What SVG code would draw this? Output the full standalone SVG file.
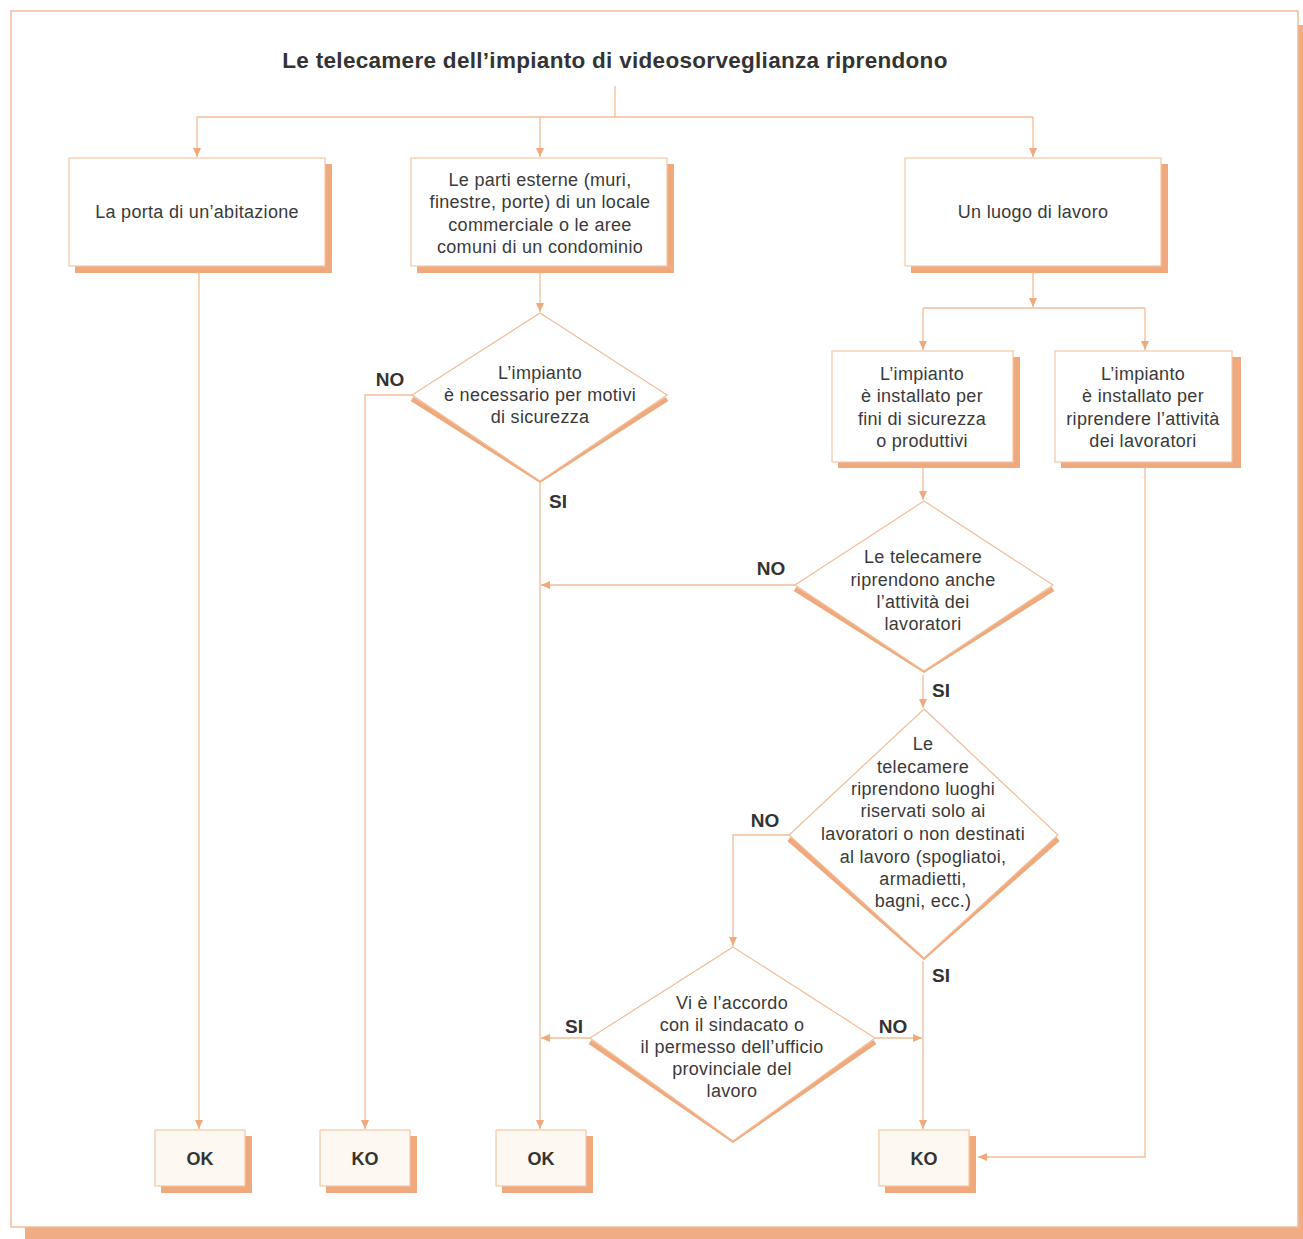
<svg xmlns="http://www.w3.org/2000/svg" width="1303" height="1239" viewBox="0 0 1303 1239">
<style>
.t{font-family:"Liberation Sans",Arial,sans-serif;font-size:18px;letter-spacing:0.3px;fill:#3a3a3a;text-anchor:middle}
.b{font-family:"Liberation Sans",Arial,sans-serif;font-weight:bold;font-size:18px;fill:#333;text-anchor:middle}
.l{font-size:19px}
.box{fill:#fff;stroke:#f3c7a6;stroke-width:1.2}
.end{fill:#fdf8f1;stroke:#f3c7a6;stroke-width:1.2}
.sh{fill:#f0a97c}
.dia{fill:#fff;stroke:#f2bc96;stroke-width:1.2}
.dsh{fill:none;stroke:#f0a97c;stroke-width:5;stroke-linejoin:miter}
.c{fill:none;stroke:#f2bc96;stroke-width:1.3}
</style>
<defs>
<marker id="ar" markerUnits="userSpaceOnUse" markerWidth="10" markerHeight="9" refX="9" refY="4.5" orient="auto">
<path d="M0,0.5 L9,4.5 L0,8.5 z" fill="#f0a97c"/>
</marker>
</defs>
<rect x="0" y="0" width="1303" height="1239" fill="#fff"/>
<g id="frame">
<rect x="25" y="25" width="1290" height="1230" fill="#f0ad84"/>
<rect x="11" y="11" width="1287" height="1216" fill="#fff" stroke="#f2bc96" stroke-width="1.5"/>
</g>
<g id="title">
<text x="615" y="68" class="b" style="font-size:22.5px;letter-spacing:0.3px">Le telecamere dell’impianto di videosorveglianza riprendono</text>
</g>
<g id="connectors">
<path class="c" d="M615,86 L615,117"/>
<path class="c" d="M197,117 L1033,117"/>
<path class="c" d="M197,117 L197,157" marker-end="url(#ar)"/>
<path class="c" d="M540,117 L540,157" marker-end="url(#ar)"/>
<path class="c" d="M1033,117 L1033,157" marker-end="url(#ar)"/>
<path class="c" d="M199,273 L199,1129" marker-end="url(#ar)"/>
<path class="c" d="M540,273 L540,312" marker-end="url(#ar)"/>
<path class="c" d="M412,395 L365,395 L365,1129" marker-end="url(#ar)"/>
<path class="c" d="M540,483 L540,1129" marker-end="url(#ar)"/>
<path class="c" d="M1033,273 L1033,307" marker-end="url(#ar)"/>
<path class="c" d="M923,308 L1145,308"/>
<path class="c" d="M923,308 L923,350" marker-end="url(#ar)"/>
<path class="c" d="M1145,308 L1145,350" marker-end="url(#ar)"/>
<path class="c" d="M923,468 L923,500" marker-end="url(#ar)"/>
<path class="c" d="M795,585 L541,585" marker-end="url(#ar)"/>
<path class="c" d="M923,675 L923,708" marker-end="url(#ar)"/>
<path class="c" d="M789,835 L733,835 L733,946" marker-end="url(#ar)"/>
<path class="c" d="M923,961 L923,1129" marker-end="url(#ar)"/>
<path class="c" d="M590,1038 L541,1038" marker-end="url(#ar)"/>
<path class="c" d="M875,1038 L922,1038" marker-end="url(#ar)"/>
<path class="c" d="M1145,468 L1145,1157 L978,1157" marker-end="url(#ar)"/>
</g>
<g id="labels">
<text x="390" y="386" class="b l">NO</text>
<text x="558" y="508" class="b l">SI</text>
<text x="771" y="575" class="b l">NO</text>
<text x="941" y="697" class="b l">SI</text>
<text x="765" y="827" class="b l">NO</text>
<text x="941" y="982" class="b l">SI</text>
<text x="574" y="1033" class="b l">SI</text>
<text x="893" y="1033" class="b l">NO</text>
</g>
<g id="n-porta">
<rect class="sh" x="75" y="164" width="257" height="109"/>
<rect class="box" x="69" y="158" width="256" height="108"/>
<text class="t" x="197" y="218">La porta di un’abitazione</text>
</g>
<g id="n-parti">
<rect class="sh" x="417" y="164" width="257" height="109"/>
<rect class="box" x="411" y="158" width="256" height="108"/>
<text class="t" x="540" y="186">Le parti esterne (muri,</text>
<text class="t" x="540" y="208">finestre, porte) di un locale</text>
<text class="t" x="540" y="231">commerciale o le aree</text>
<text class="t" x="540" y="253">comuni di un condominio</text>
</g>
<g id="n-luogo">
<rect class="sh" x="911" y="164" width="257" height="109"/>
<rect class="box" x="905" y="158" width="256" height="108"/>
<text class="t" x="1033" y="218">Un luogo di lavoro</text>
</g>
<g id="n-sicurezza">
<rect class="sh" x="838" y="357" width="182" height="111"/>
<rect class="box" x="832" y="351" width="181" height="111"/>
<text class="t" x="922" y="380">L’impianto</text>
<text class="t" x="922" y="402">è installato per</text>
<text class="t" x="922" y="425">fini di sicurezza</text>
<text class="t" x="922" y="447">o produttivi</text>
</g>
<g id="n-attivita">
<rect class="sh" x="1061" y="357" width="180" height="111"/>
<rect class="box" x="1055" y="351" width="177" height="111"/>
<text class="t" x="1143" y="380">L’impianto</text>
<text class="t" x="1143" y="402">è installato per</text>
<text class="t" x="1143" y="425">riprendere l’attività</text>
<text class="t" x="1143" y="447">dei lavoratori</text>
</g>
<g id="d-necessario">
<polyline class="dsh" points="412,399 540,480 667,399"/>
<polygon class="dia" points="540,313 667,395 540,481 412,395"/>
<text class="t" x="540" y="379">L’impianto</text>
<text class="t" x="540" y="401">è necessario per motivi</text>
<text class="t" x="540" y="423">di sicurezza</text>
</g>
<g id="d-anche">
<polyline class="dsh" points="795,589 924,670 1053,589"/>
<polygon class="dia" points="924,501 1053,585 924,671 795,585"/>
<text class="t" x="923" y="563">Le telecamere</text>
<text class="t" x="923" y="586">riprendono anche</text>
<text class="t" x="923" y="608">l’attività dei</text>
<text class="t" x="923" y="630">lavoratori</text>
</g>
<g id="d-luoghi">
<polyline class="dsh" points="789,839 924,957 1058,839"/>
<polygon class="dia" points="924,709 1058,835 924,958 789,835"/>
<text class="t" x="923" y="750">Le</text>
<text class="t" x="923" y="773">telecamere</text>
<text class="t" x="923" y="795">riprendono luoghi</text>
<text class="t" x="923" y="817">riservati solo ai</text>
<text class="t" x="923" y="840">lavoratori o non destinati</text>
<text class="t" x="923" y="863">al lavoro (spogliatoi,</text>
<text class="t" x="923" y="885">armadietti,</text>
<text class="t" x="923" y="907">bagni, ecc.)</text>
</g>
<g id="d-accordo">
<polyline class="dsh" points="590,1042 733,1140 875,1042"/>
<polygon class="dia" points="733,947 875,1038 733,1141 590,1038"/>
<text class="t" x="732" y="1009">Vi è l’accordo</text>
<text class="t" x="732" y="1031">con il sindacato o</text>
<text class="t" x="732" y="1053">il permesso dell’ufficio</text>
<text class="t" x="732" y="1075">provinciale del</text>
<text class="t" x="732" y="1097">lavoro</text>
</g>
<g id="e-ok1">
<rect class="sh" x="161" y="1136" width="91" height="57"/>
<rect class="end" x="155" y="1130" width="90" height="56"/>
<text class="b" x="200" y="1165">OK</text>
</g>
<g id="e-ko1">
<rect class="sh" x="326" y="1136" width="91" height="57"/>
<rect class="end" x="320" y="1130" width="90" height="56"/>
<text class="b" x="365" y="1165">KO</text>
</g>
<g id="e-ok2">
<rect class="sh" x="502" y="1136" width="91" height="57"/>
<rect class="end" x="496" y="1130" width="90" height="56"/>
<text class="b" x="541" y="1165">OK</text>
</g>
<g id="e-ko2">
<rect class="sh" x="885" y="1136" width="91" height="57"/>
<rect class="end" x="879" y="1130" width="90" height="56"/>
<text class="b" x="924" y="1165">KO</text>
</g>
</svg>
